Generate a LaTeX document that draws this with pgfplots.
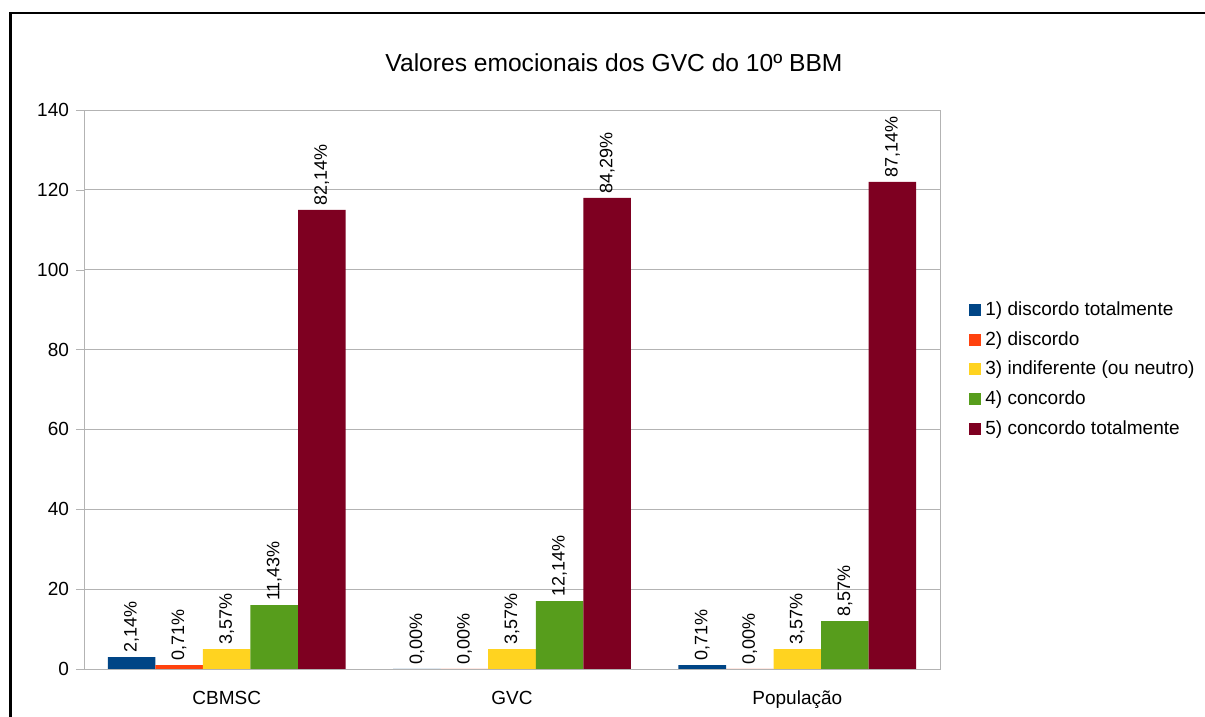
\documentclass[border=0pt]{standalone}
\usepackage{pgfplots}
\pgfplotsset{compat=1.18}
\usepackage{pgfplotstable}
\usepackage{fontspec}
\setmainfont{Liberation Sans}
\definecolor{c1}{HTML}{004586}
\definecolor{c2}{HTML}{FF420E}
\definecolor{c3}{HTML}{FFD320}
\definecolor{c4}{HTML}{579D1C}
\definecolor{c5}{HTML}{7E0021}
\definecolor{gridgray}{HTML}{B3B3B3}

\pgfplotstableread{
x y lab
0 3 2,14\%
1 0 0,00\%
2 1 0,71\%
}\sA
\pgfplotstableread{
x y lab
0 1 0,71\%
1 0 0,00\%
2 0 0,00\%
}\sB
\pgfplotstableread{
x y lab
0 5 3,57\%
1 5 3,57\%
2 5 3,57\%
}\sC
\pgfplotstableread{
x y lab
0 16 11,43\%
1 17 12,14\%
2 12 8,57\%
}\sD
\pgfplotstableread{
x y lab
0 115 82,14\%
1 118 84,29\%
2 122 87,14\%
}\sE

\pgfplotsset{sq/.style={legend image code/.code={\fill[##1] (0pt,-3pt) rectangle (6pt,3pt);}}}

\begin{document}
\begin{tikzpicture}
\useasboundingbox (0,0) rectangle (602.5pt,358.5pt);
\draw[line width=1.2pt] (5.25pt,-5pt) -- (5.25pt,352pt) -- (610pt,352pt);
\node[font=\fontsize{12.3}{14}\selectfont] at (307pt,327pt) {Valores emocionais dos GVC do 10º BBM};
\begin{axis}[
  at={(42pt,24pt)}, anchor=south west, scale only axis,
  width=428pt, height=279.5pt,
  xmin=-0.5, xmax=2.5, ymin=0, ymax=140,
  ytick={0,20,...,140},
  xtick={0,1,2}, xticklabels={CBMSC,GVC,População},
  extra x ticks={-0.5,0.5,1.5,2.5}, extra x tick labels={},
  extra x tick style={major tick length=4pt},
  xtick pos=bottom, ytick pos=left,
  tick align=outside,
  x tick style={draw=none},
  extra x tick style={tick style={draw=gridgray}},
  y tick style={draw=gridgray},
  major tick length=4pt,
  ymajorgrids, grid style={gridgray},
  axis line style={gridgray},
  /pgf/number format/assume math mode=true,
  ticklabel style={font=\fontsize{9.5}{11}\selectfont},
  xticklabel style={yshift=-3.5pt},
  ybar, bar width=23.78pt,
  point meta=explicit symbolic,
  nodes near coords,
  nodes near coords style={rotate=90, anchor=west, font=\fontsize{9}{11}\selectfont, inner sep=2pt, text=black},
  legend style={at={(1,0.5)}, anchor=west, xshift=11.5pt, yshift=10pt, draw=none, fill=none,
    font=\fontsize{9.5}{11}\selectfont, row sep=2.5pt},
  legend cell align=left,
  clip=false,
]
\addplot[fill=c1, draw=none, bar shift=-47.56pt, sq] table[x=x,y=y,meta=lab]{\sA};
\addplot[fill=c2, draw=none, bar shift=-23.78pt, sq] table[x=x,y=y,meta=lab]{\sB};
\addplot[fill=c3, draw=none, bar shift=0pt, sq] table[x=x,y=y,meta=lab]{\sC};
\addplot[fill=c4, draw=none, bar shift=23.78pt, sq] table[x=x,y=y,meta=lab]{\sD};
\addplot[fill=c5, draw=none, bar shift=47.56pt, sq] table[x=x,y=y,meta=lab]{\sE};
\legend{1) discordo totalmente, 2) discordo, 3) indiferente (ou neutro), 4) concordo, 5) concordo totalmente}
\end{axis}
\end{tikzpicture}
\end{document}
